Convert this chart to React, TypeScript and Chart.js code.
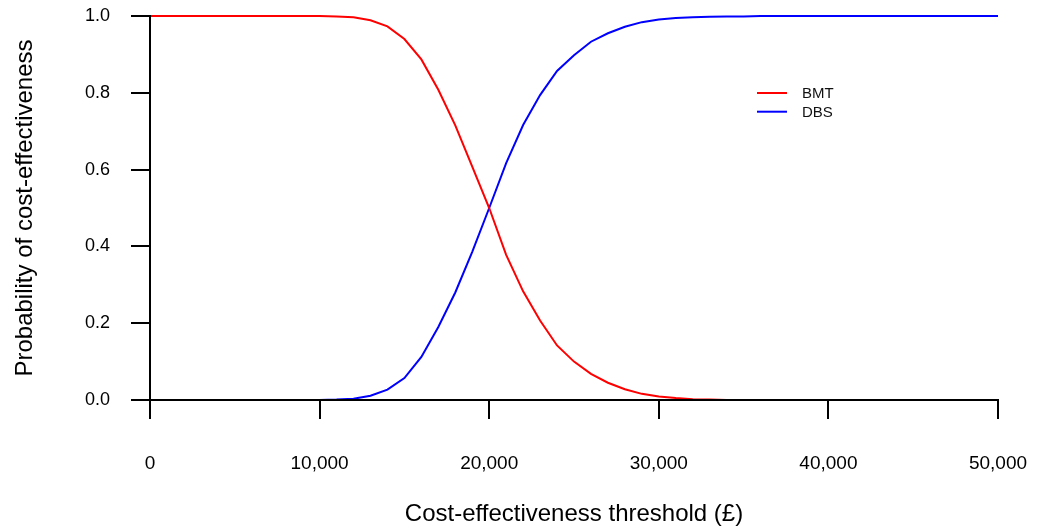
import React, { useEffect, useRef } from "react";
import { Chart, registerables } from "chart.js";

Chart.register(...registerables);

// Cost-effectiveness thresholds (£)
const thresholds = [
  0, 1000, 2000, 3000, 4000, 5000, 6000, 7000, 8000, 9000, 10000,
  11000, 12000, 13000, 14000, 15000, 16000, 17000, 18000, 19000, 20000,
  21000, 22000, 23000, 24000, 25000, 26000, 27000, 28000, 29000, 30000,
  31000, 32000, 33000, 34000, 35000, 36000, 37000, 38000, 39000, 40000,
  41000, 42000, 43000, 44000, 45000, 46000, 47000, 48000, 49000, 50000,
];

// Probability of cost-effectiveness, BMT
const bmtValues = [
  1, 1, 1, 1, 1, 1, 1, 1, 1, 1, 1,
  0.999, 0.997, 0.989, 0.973, 0.94, 0.887, 0.808, 0.715, 0.608, 0.5,
  0.378, 0.283, 0.207, 0.142, 0.1, 0.068, 0.045, 0.028, 0.016, 0.009,
  0.005, 0.002, 0.001, 0, 0, 0, 0, 0, 0, 0,
  0, 0, 0, 0, 0, 0, 0, 0, 0, 0,
];

// Probability of cost-effectiveness, DBS
const dbsValues = [
  0, 0, 0, 0, 0, 0, 0, 0, 0, 0, 0,
  0.001, 0.003, 0.011, 0.027, 0.057, 0.112, 0.19, 0.28, 0.386, 0.5,
  0.617, 0.716, 0.794, 0.857, 0.898, 0.933, 0.955, 0.972, 0.984, 0.991,
  0.995, 0.997, 0.998, 0.999, 0.999, 1, 1, 1, 1, 1,
  1, 1, 1, 1, 1, 1, 1, 1, 1, 1,
];

const seriesNames = ["BMT", "DBS"];
const seriesColors = ["#ff0000", "#0000ff"];

const xTickValues = [0, 10000, 20000, 30000, 40000, 50000];
const yTickValues = [0, 0.2, 0.4, 0.6, 0.8, 1.0];

const FONT = "'Liberation Sans', Arial, Helvetica, sans-serif";

const insetLegend = {
  id: "insetLegend",
  afterDraw(chart: any) {
    const ctx = chart.ctx as CanvasRenderingContext2D;
    ctx.save();
    chart.data.datasets.forEach((ds: any, i: number) => {
      const y = 93 + i * 18.7;
      ctx.strokeStyle = ds.borderColor;
      ctx.lineWidth = 2;
      ctx.beginPath();
      ctx.moveTo(757, y);
      ctx.lineTo(787, y);
      ctx.stroke();
      ctx.fillStyle = "#111";
      ctx.font = `15px ${FONT}`;
      ctx.textAlign = "left";
      ctx.textBaseline = "middle";
      ctx.fillText(ds.label, 802, y + 1);
    });
    ctx.restore();
  },
};

const zeroPadding = (scale: any) => {
  scale.paddingTop = 0;
  scale.paddingBottom = 0;
  scale.paddingLeft = 0;
  scale.paddingRight = 0;
};

export default function App() {
  const canvasRef = useRef<HTMLCanvasElement | null>(null);

  useEffect(() => {
    if (!canvasRef.current) return;
    const makeSeries = (vals: number[]) =>
      thresholds.map((t, i) => ({ x: t, y: vals[i] }));

    const chart = new Chart(canvasRef.current, {
      type: "line",
      data: {
        datasets: [
          {
            label: seriesNames[0],
            data: makeSeries(bmtValues),
            borderColor: seriesColors[0],
            backgroundColor: seriesColors[0],
            borderWidth: 2,
            pointRadius: 0,
            tension: 0,
            fill: false,
            clip: false as any,
          },
          {
            label: seriesNames[1],
            data: makeSeries(dbsValues),
            borderColor: seriesColors[1],
            backgroundColor: seriesColors[1],
            borderWidth: 2,
            pointRadius: 0,
            tension: 0,
            fill: false,
            clip: false as any,
          },
        ],
      },
      options: {
        animation: false,
        responsive: true,
        maintainAspectRatio: false,
        layout: { padding: { top: 16, right: 46, left: 0, bottom: 0 } },
        plugins: {
          legend: { display: false },
          tooltip: { enabled: false },
        },
        scales: {
          x: {
            type: "linear",
            min: 0,
            max: 50000,
            border: { display: true, color: "#000", width: 2, z: 1 } as any,
            grid: {
              display: true,
              drawOnChartArea: false,
              drawTicks: true,
              tickLength: 19,
              color: "#000",
              lineWidth: 2,
              z: 1,
            } as any,
            afterBuildTicks: (scale: any) => {
              scale.ticks = xTickValues.map((v) => ({ value: v }));
            },
            ticks: {
              color: "#000",
              font: { family: FONT, size: 19 },
              padding: 33,
              maxRotation: 0,
              autoSkip: false,
              callback: (v: any) => Number(v).toLocaleString("en-US"),
            },
            title: {
              display: true,
              text: "Cost-effectiveness threshold (£)",
              color: "#000",
              font: { family: FONT, size: 24 },
              padding: { top: 0, bottom: 0 },
            },
            afterFit: (scale: any) => {
              scale.height = 129;
              zeroPadding(scale);
            },
          },
          y: {
            type: "linear",
            min: 0,
            max: 1,
            border: { display: true, color: "#000", width: 2, z: 1 } as any,
            grid: {
              display: true,
              drawOnChartArea: false,
              drawTicks: true,
              tickLength: 19,
              color: "#000",
              lineWidth: 2,
              z: 1,
            } as any,
            afterBuildTicks: (scale: any) => {
              scale.ticks = yTickValues.map((v) => ({ value: v }));
            },
            ticks: {
              color: "#000",
              font: { family: FONT, size: 18 },
              padding: 21,
              autoSkip: false,
              callback: (v: any) => Number(v).toFixed(1),
            },
            title: {
              display: true,
              text: "Probability of cost-effectiveness",
              color: "#000",
              font: { family: FONT, size: 24 },
              padding: { top: 11, bottom: 0 },
            },
            afterFit: (scale: any) => {
              scale.width = 150;
              zeroPadding(scale);
            },
          },
        },
      },
      plugins: [insetLegend],
    });

    return () => chart.destroy();
  }, []);

  return (
    <div
      style={{
        position: "fixed",
        left: 0,
        top: 0,
        width: 1044,
        height: 529,
        background: "#fff",
      }}
    >
      <canvas ref={canvasRef} />
    </div>
  );
}
